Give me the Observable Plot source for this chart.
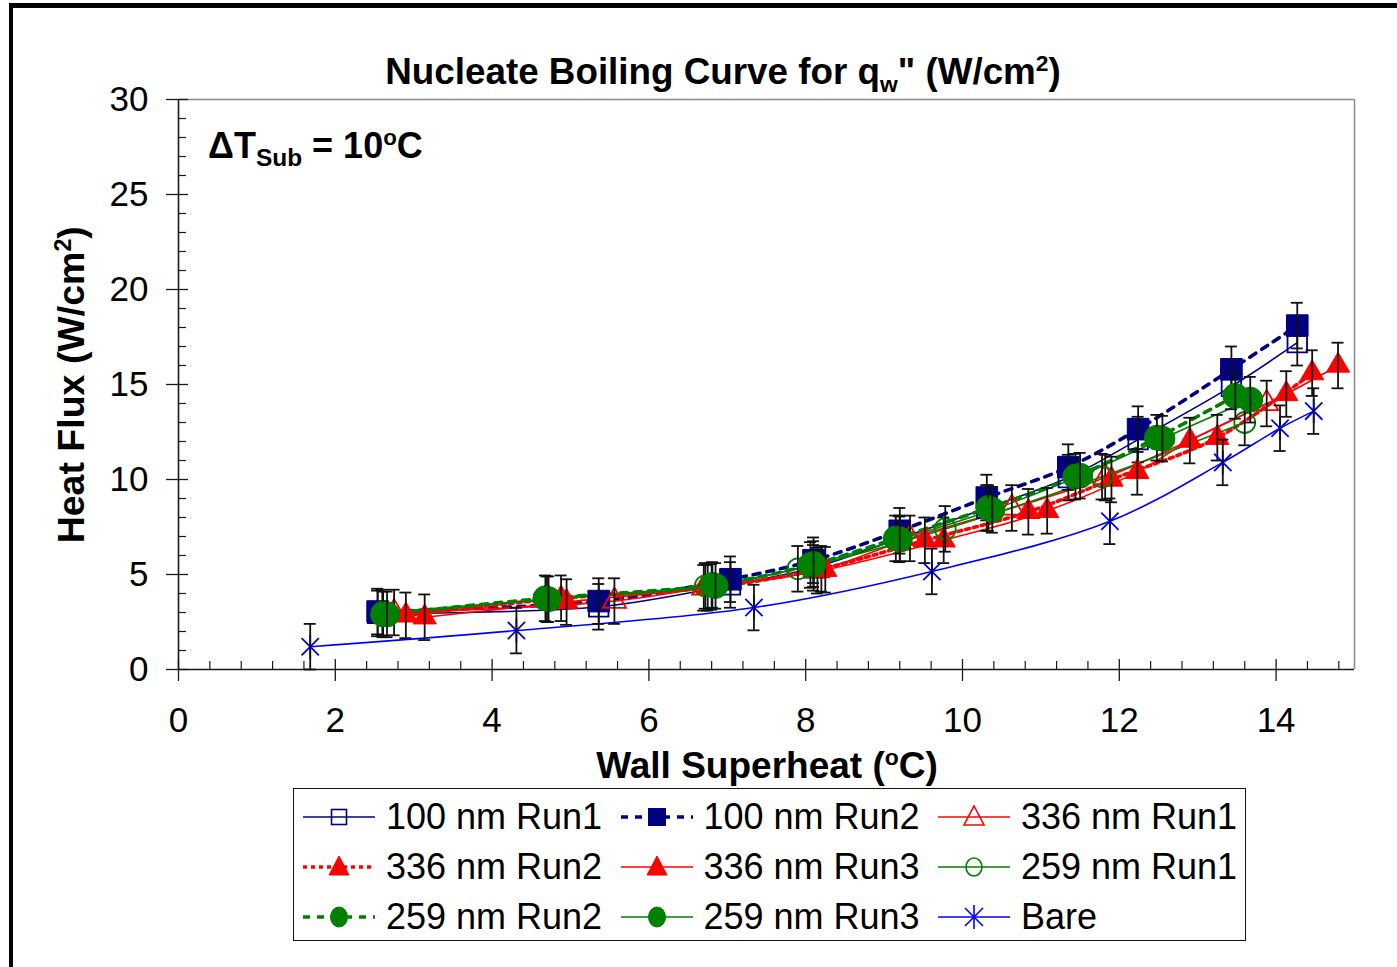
<!DOCTYPE html>
<html>
<head>
<meta charset="utf-8">
<script src="https://cdn.jsdelivr.net/npm/d3@7"></script>
<script src="https://cdn.jsdelivr.net/npm/@observablehq/plot@0.6"></script>
<style>
  body { margin: 0; background: #fff; }
  #wrap { position: relative; width: 1397px; height: 967px; overflow: hidden; background: #fff;
          font-family: "Liberation Sans", Arial, sans-serif; color: #000; }
  #chart { position: absolute; left: 0; top: 0; }
  .t { position: absolute; white-space: nowrap; font-weight: bold; line-height: 1; }
  .t sub, .t sup { font-size: 0.62em; line-height: 0; }
  #border { position: absolute; left: 9px; top: 3px; width: 1500px; height: 1100px;
            border-left: 4px solid #000; border-top: 5px solid #000; pointer-events: none; }
  #legend { position: absolute; left: 293px; top: 788px; width: 951px; height: 151px;
            border: 1.5px solid #111; background: #fff; }
  .li { position: absolute; height: 36px; display: flex; align-items: center; white-space: nowrap;
        font-size: 36px; line-height: 1; }
  .li svg { margin-right: 11px; flex: none; }
</style>
</head>
<body>
<div id="wrap">
  <div id="chart"></div>
  <div class="t" id="title" style="left:723px; top:54px; font-size:36.8px; transform:translateX(-50%);">Nucleate Boiling Curve for q<sub>w</sub>" (W/cm<sup>2</sup>)</div>
  <div class="t" id="annot" style="left:208px; top:128px; font-size:36px;">ΔT<sub style="font-size:0.68em;">Sub</sub> = 10<sup>o</sup>C</div>
  <div class="t" id="xtitle" style="left:767px; top:747px; font-size:37px; transform:translateX(-50%);">Wall Superheat (<sup>o</sup>C)</div>
  <div class="t" id="ytitle" style="left:-128px; top:366px; width:400px; text-align:center; font-size:37.5px; transform:rotate(-90deg);">Heat Flux (W/cm<sup>2</sup>)</div>
  <div id="legend"></div>
  <div id="border"></div>
</div>
<script>
// ---------------- data ----------------
const seriesNames = ["100 nm Run1", "100 nm Run2", "336 nm Run1", "336 nm Run2", "336 nm Run3",
                     "259 nm Run1", "259 nm Run2", "259 nm Run3", "Bare"];

const x100Run1 = [2.54, 5.36, 7.04, 8.10, 9.20, 10.31, 11.35, 12.24, 13.43, 14.27];
const y100Run1 = [2.95, 3.30, 4.45, 5.35, 6.90, 8.50, 10.10, 12.10, 14.90, 17.20];

const x100Run2 = [2.54, 5.36, 7.04, 8.10, 9.20, 10.31, 11.35, 12.24, 13.43, 14.27];
const y100Run2 = [3.05, 3.60, 4.75, 5.75, 7.30, 9.05, 10.65, 12.65, 15.80, 18.10];

const x336Run1 = [2.75, 5.56, 6.70, 8.15, 9.33, 10.63, 11.82, 13.88];
const y336Run1 = [3.00, 3.60, 4.30, 5.20, 6.90, 8.50, 10.10, 14.00];

const x336Run2 = [2.90, 4.88, 6.75, 8.20, 9.52, 10.84, 11.90, 13.25, 14.46];
const y336Run2 = [2.85, 3.75, 4.30, 5.30, 6.80, 8.30, 10.00, 12.20, 15.60];

const x336Run3 = [3.14, 4.95, 6.80, 8.25, 9.76, 11.08, 12.23, 12.90, 14.13, 14.79];
const y336Run3 = [2.75, 3.55, 4.35, 5.25, 6.80, 8.35, 10.40, 12.05, 14.50, 16.00];

const x259Run1 = [2.60, 4.70, 6.72, 7.90, 9.78, 11.78, 13.60];
const y259Run1 = [3.00, 3.70, 4.40, 5.30, 7.40, 10.15, 13.00];

const x259Run2 = [2.61, 4.68, 6.81, 8.06, 9.15, 10.33, 11.44, 12.48, 13.48];
const y259Run2 = [2.90, 3.75, 4.45, 5.50, 6.90, 8.50, 10.15, 12.20, 14.40];

const x259Run3 = [2.66, 4.72, 6.85, 8.10, 9.20, 10.38, 11.50, 12.55, 13.67];
const y259Run3 = [2.90, 3.70, 4.40, 5.55, 6.85, 8.40, 10.20, 12.15, 14.20];

const xBare = [1.68, 4.31, 7.34, 9.61, 11.88, 13.32, 14.05, 14.48];
const yBare = [1.20, 2.05, 3.26, 5.16, 7.80, 10.90, 12.70, 13.60];

const errorHalf = 1.2;   // W/cm², error bar half-length

const xTickLabels = [0, 2, 4, 6, 8, 10, 12, 14];
const yTickLabels = [0, 5, 10, 15, 20, 25, 30];

// ---------------- styles ----------------
const navy = "#000080", red = "#FF0000", green = "#008000", blue = "#0000FF";
const excelStar = {
  draw(ctx, size) {
    const r = Math.sqrt(size / Math.PI), d = r * 0.72;
    ctx.moveTo(0, -r); ctx.lineTo(0, r);
    ctx.moveTo(-d, -d); ctx.lineTo(d, d);
    ctx.moveTo(-d, d); ctx.lineTo(d, -d);
  }
};
const xs = [x100Run1, x100Run2, x336Run1, x336Run2, x336Run3, x259Run1, x259Run2, x259Run3, xBare];
const ys = [y100Run1, y100Run2, y336Run1, y336Run2, y336Run3, y259Run1, y259Run2, y259Run3, yBare];
const styles = [
  {color: navy,  width: 1.6, dash: null,  sym: "square",   open: true,  r: 11},
  {color: navy,  width: 3.6, dash: "7,7", sym: "square",   open: false, r: 12.2},
  {color: red,   width: 1.6, dash: null,  sym: "triangle", open: true,  r: 8.6},
  {color: red,   width: 3.6, dash: "4,4", sym: "triangle", open: false, r: 8.6},
  {color: red,   width: 1.6, dash: null,  sym: "triangle", open: false, r: 8.6},
  {color: green, width: 1.6, dash: null,  sym: "circle",   open: true,  r: 10.5},
  {color: green, width: 3.6, dash: "7,7", sym: "circle",   open: false, r: 12.5},
  {color: green, width: 1.6, dash: null,  sym: "circle",   open: false, r: 12.5},
  {color: blue,  width: 1.6, dash: null,  sym: excelStar,  open: true,  r: 12}
];
const series = seriesNames.map((name, i) => ({
  name, ...styles[i],
  points: xs[i].map((x, j) => ({x, y: ys[i][j]}))
}));

const xMinor = d3.range(1, 38).map(k => +(k * 0.4).toFixed(1)).filter(v => Math.abs(v / 2 - Math.round(v / 2)) > 1e-6 && v < 15);
const yMinor = d3.range(1, 30).filter(v => v % 5 !== 0);

// ---------------- marks ----------------
const axisColor = "#1a1a1a";
const marks = [
  Plot.ruleY([30], {stroke: "#8a8a8a", strokeWidth: 1.5}),
  Plot.ruleX([15], {stroke: "#8a8a8a", strokeWidth: 1.5}),
  Plot.ruleX(xMinor, {x: d => d, y1: 0, y2: 0, insetTop: -8, insetBottom: 0, stroke: axisColor, strokeWidth: 1.2}),
  Plot.ruleX(xTickLabels, {x: d => d, y1: 0, y2: 0, insetTop: -10, insetBottom: -12, stroke: axisColor, strokeWidth: 1.3}),
  Plot.ruleY(yMinor, {y: d => d, x1: 0, x2: 0, insetLeft: 0, insetRight: -8, stroke: axisColor, strokeWidth: 1.2}),
  Plot.ruleY(yTickLabels, {y: d => d, x1: 0, x2: 0, insetLeft: -12, insetRight: -10, stroke: axisColor, strokeWidth: 1.3}),
  Plot.ruleX([0], {stroke: axisColor, strokeWidth: 1.6}),
  Plot.ruleY([0], {stroke: axisColor, strokeWidth: 1.6}),
  Plot.axisX(xTickLabels, {tickSize: 0, tickPadding: 38, fontSize: 35, label: null}),
  Plot.axisY(yTickLabels, {tickSize: 0, tickPadding: 30, fontSize: 35, label: null})
];
for (const s of series) {
  marks.push(Plot.line(s.points, {x: "x", y: "y", stroke: s.color, strokeWidth: s.width,
    strokeDasharray: s.dash || undefined, curve: "catmull-rom"}));
}
for (const s of series) {
  marks.push(Plot.dot(s.points, {x: "x", y: "y", symbol: s.sym, r: s.r,
    fill: s.open ? "none" : s.color, stroke: s.color, strokeWidth: s.open ? 1.8 : 1}));
  marks.push(Plot.ruleX(s.points, {x: "x", y1: d => d.y - errorHalf, y2: d => d.y + errorHalf, stroke: "#111", strokeWidth: 1.8}));
  marks.push(Plot.ruleY(s.points, {y: d => d.y + errorHalf, x1: "x", x2: "x", insetLeft: -6, insetRight: -6, stroke: "#111", strokeWidth: 1.8}));
  marks.push(Plot.ruleY(s.points, {y: d => d.y - errorHalf, x1: "x", x2: "x", insetLeft: -6, insetRight: -6, stroke: "#111", strokeWidth: 1.8}));
}

const chart = Plot.plot({
  width: 1397, height: 967,
  marginLeft: 178, marginRight: 43, marginTop: 99, marginBottom: 298,
  x: {domain: [0, 15]},
  y: {domain: [0, 30]},
  style: {fontFamily: '"Liberation Sans", Arial, sans-serif', color: "#000", background: "transparent", overflow: "visible"},
  marks
});
document.getElementById("chart").appendChild(chart);

// ---------------- legend ----------------
function swatch(s) {
  const w = 72, h = 30, cy = 15, cx = 36;
  let m = "";
  const fill = s.open ? "none" : s.color;
  const sw = s.open ? 1.6 : 1;
  if (s.sym === "square") {
    const a = s.open ? 15 : 17;
    m = `<rect x="${cx - a / 2}" y="${cy - a / 2}" width="${a}" height="${a}" fill="${fill}" stroke="${s.color}" stroke-width="${sw}"/>`;
  } else if (s.sym === "triangle") {
    m = `<path d="M${cx},${cy - 11}L${cx + 10},${cy + 8}L${cx - 10},${cy + 8}Z" fill="${fill}" stroke="${s.color}" stroke-width="${sw}"/>`;
  } else if (s.sym === "circle") {
    m = `<ellipse cx="${cx}" cy="${cy}" rx="${s.open ? 8 : 8.5}" ry="${s.open ? 9 : 10}" fill="${fill}" stroke="${s.color}" stroke-width="${sw}"/>`;
  } else {
    m = `<path d="M${cx},${cy - 12}V${cy + 12}M${cx - 9},${cy - 9}L${cx + 9},${cy + 9}M${cx - 9},${cy + 9}L${cx + 9},${cy - 9}" stroke="${s.color}" stroke-width="1.6" fill="none"/>`;
  }
  const dash = s.dash ? `stroke-dasharray="${s.dash}"` : "";
  return `<svg width="${w}" height="${h}"><line x1="0" x2="${w}" y1="${cy}" y2="${cy}" stroke="${s.color}" stroke-width="${s.width}" ${dash}/>${m}</svg>`;
}
const legend = document.getElementById("legend");
series.forEach((s, i) => {
  const col = i % 3, row = Math.floor(i / 3);
  const d = document.createElement("div");
  d.className = "li";
  d.style.left = (9 + col * 317.5) + "px";
  d.style.top = (28 - 18 + row * 50) + "px";
  d.innerHTML = swatch(s) + `<span>${s.name}</span>`;
  legend.appendChild(d);
});
</script>
</body>
</html>
